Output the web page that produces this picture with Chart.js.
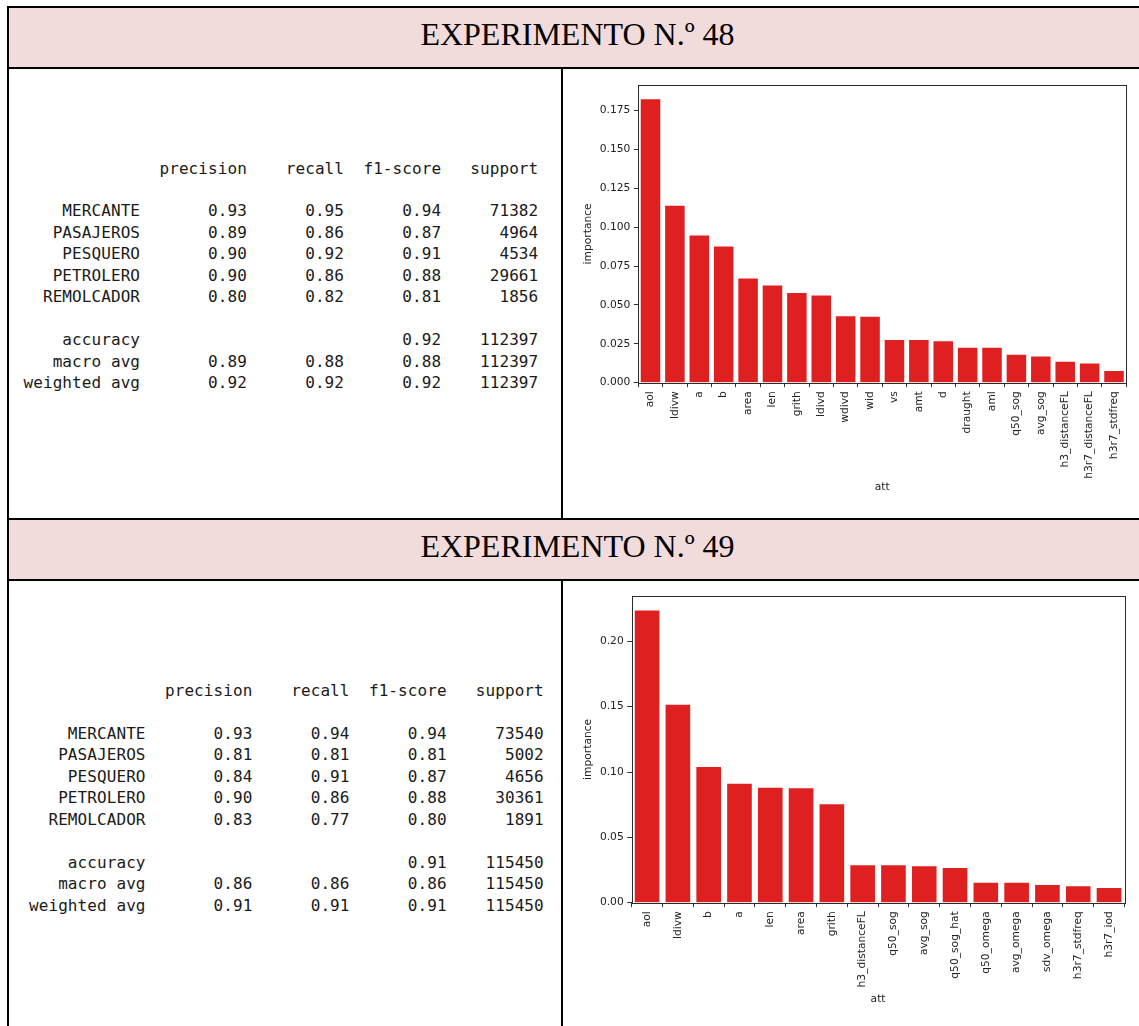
<!DOCTYPE html>
<html>
<head>
<meta charset="utf-8">
<script src="https://cdn.jsdelivr.net/npm/chart.js@4.4.1/dist/chart.umd.min.js"></script>
<style>
  html, body { margin: 0; padding: 0; background: #fff; }
  body { width: 1139px; height: 1026px; position: relative; overflow: hidden; }
  .line { position: absolute; background: #000; }
  .head { position: absolute; background: #f2dcdb; }
  .title { position: absolute; left: 0; width: 1155px; text-align: center;
           font-family: "Liberation Serif", "Times New Roman", serif; font-size: 32px;
           line-height: 32px; color: #000; white-space: nowrap; }
  pre.report { position: absolute; margin: 0; font-family: "DejaVu Sans Mono", monospace;
               font-size: 16px; letter-spacing: 0.08px; line-height: 21.45px; color: #1a1a1a; }
  canvas { position: absolute; }
</style>
</head>
<body>
  <!-- table frame -->
  <div class="head" style="left:9px;top:8px;width:1130px;height:59px"></div>
  <div class="head" style="left:9px;top:520px;width:1130px;height:59px"></div>
  <div class="line" style="left:7px;top:6px;width:1132px;height:2px"></div>
  <div class="line" style="left:7px;top:6px;width:2px;height:1020px"></div>
  <div class="line" style="left:7px;top:67px;width:1132px;height:2px"></div>
  <div class="line" style="left:561px;top:69px;width:2px;height:449px"></div>
  <div class="line" style="left:7px;top:518px;width:1132px;height:2px"></div>
  <div class="line" style="left:7px;top:579px;width:1132px;height:2px"></div>
  <div class="line" style="left:561px;top:581px;width:2px;height:445px"></div>

  <div class="title" style="top:17.5px">EXPERIMENTO N.º 48</div>
  <div class="title" style="top:529.5px">EXPERIMENTO N.º 49</div>

  <pre class="report" id="rep48" style="left:23.5px;top:157.5px"></pre>
  <pre class="report" id="rep49" style="left:29px;top:680px"></pre>

  <canvas id="c48" width="576" height="448" style="left:563px;top:70px"></canvas>
  <canvas id="c49" width="576" height="445" style="left:563px;top:581px"></canvas>

<script>
// ---- classification reports ----
const classNames = ["MERCANTE", "PASAJEROS", "PESQUERO", "PETROLERO", "REMOLCADOR"];

const precision48 = [0.93, 0.89, 0.90, 0.90, 0.80];
const recall48    = [0.95, 0.86, 0.92, 0.86, 0.82];
const f1score48   = [0.94, 0.87, 0.91, 0.88, 0.81];
const support48   = [71382, 4964, 4534, 29661, 1856];
const accuracy48  = [0.92, 112397];
const macroAvg48  = [0.89, 0.88, 0.88, 112397];
const weightedAvg48 = [0.92, 0.92, 0.92, 112397];

const precision49 = [0.93, 0.81, 0.84, 0.90, 0.83];
const recall49    = [0.94, 0.81, 0.91, 0.86, 0.77];
const f1score49   = [0.94, 0.81, 0.87, 0.88, 0.80];
const support49   = [73540, 5002, 4656, 30361, 1891];
const accuracy49  = [0.91, 115450];
const macroAvg49  = [0.86, 0.86, 0.86, 115450];
const weightedAvg49 = [0.91, 0.91, 0.91, 115450];

// ---- feature importances ----
const features48 = ["aol", "ldivw", "a", "b", "area", "len", "grith", "ldivd", "wdivd", "wid",
  "vs", "amt", "d", "draught", "aml", "q50_sog", "avg_sog", "h3_distanceFL", "h3r7_distanceFL", "h3r7_stdfreq"];
const importance48 = [0.1823, 0.1138, 0.0946, 0.0875, 0.0670, 0.0625, 0.0576, 0.0561, 0.0428, 0.0424,
  0.0274, 0.0274, 0.0267, 0.0225, 0.0225, 0.0180, 0.0169, 0.0135, 0.0124, 0.0075];

const features49 = ["aol", "ldivw", "b", "a", "len", "area", "grith", "h3_distanceFL", "q50_sog", "avg_sog",
  "q50_sog_hat", "q50_omega", "avg_omega", "sdv_omega", "h3r7_stdfreq", "h3r7_iod"];
const importance49 = [0.2235, 0.1514, 0.1038, 0.0910, 0.0880, 0.0875, 0.0754, 0.0286, 0.0286, 0.0279,
  0.0266, 0.0153, 0.0153, 0.0136, 0.0125, 0.0113];

const yTickStep48 = 0.025, yDecimals48 = 3;
const yTickStep49 = 0.05,  yDecimals49 = 2;

// text report in the usual column layout
function buildReport(p, r, f, s, acc, macro, weighted) {
  const w = 12, col = v => String(v).padStart(9);
  const num = v => col(v.toFixed(2));
  const out = [];
  out.push("".padStart(w) + " " + [" precision", "    recall", "  f1-score", "   support"].join(""));
  out.push("");
  classNames.forEach((n, i) => {
    out.push(n.padStart(w) + " " + " " + num(p[i]) + " " + num(r[i]) + " " + num(f[i]) + " " + col(s[i]));
  });
  out.push("");
  out.push("accuracy".padStart(w) + " " + " " + col("") + " " + col("") + " " + num(acc[0]) + " " + col(acc[1]));
  out.push("macro avg".padStart(w) + " " + " " + num(macro[0]) + " " + num(macro[1]) + " " + num(macro[2]) + " " + col(macro[3]));
  out.push("weighted avg".padStart(w) + " " + " " + num(weighted[0]) + " " + num(weighted[1]) + " " + num(weighted[2]) + " " + col(weighted[3]));
  return out.join("\n");
}
document.getElementById("rep48").textContent =
  buildReport(precision48, recall48, f1score48, support48, accuracy48, macroAvg48, weightedAvg48);
document.getElementById("rep49").textContent =
  buildReport(precision49, recall49, f1score49, support49, accuracy49, macroAvg49, weightedAvg49);

// ---- bar charts ----
const frame = {
  id: "frame",
  afterDatasetsDraw(chart) {
    const a = chart.chartArea, ctx = chart.ctx;
    ctx.save();
    ctx.strokeStyle = "#2b2b2b";
    ctx.lineWidth = 1;
    ctx.strokeRect(Math.round(a.left) + 0.5, Math.round(a.top) + 0.5,
                   Math.round(a.right - a.left), Math.round(a.bottom - a.top));
    ctx.restore();
  }
};

const FONT = { family: "'DejaVu Sans', sans-serif", size: 10.7 };

function makeChart(id, labels, values, step, decimals, geo) {
  const yMax = Math.max(...values) * 1.05;
  return new Chart(document.getElementById(id), {
    type: "bar",
    data: {
      labels: labels,
      datasets: [{
        data: values,
        backgroundColor: "#df2020",
        borderWidth: 0,
        barPercentage: 1.0,
        categoryPercentage: 0.8
      }]
    },
    options: {
      responsive: false,
      animation: false,
      devicePixelRatio: 1,
      layout: { padding: { left: 0, right: geo.padRight, top: geo.padTop, bottom: 0 } },
      plugins: { legend: { display: false }, tooltip: { enabled: false } },
      scales: {
        x: {
          type: "category",
          offset: true,
          border: { display: false },
          grid: { display: true, drawOnChartArea: false, drawTicks: true, tickLength: 4.5, color: "#333" },
          ticks: { autoSkip: false, minRotation: 90, maxRotation: 90, padding: 4, color: "#222", font: FONT },
          title: { display: true, text: "att", color: "#222", font: FONT, padding: { top: 0, bottom: geo.attPad } },
          afterFit(s) { s.height = geo.xHeight; }
        },
        y: {
          min: 0,
          max: yMax,
          border: { display: false },
          grid: { display: true, drawOnChartArea: false, drawTicks: true, tickLength: 4.5, color: "#333" },
          ticks: {
            stepSize: step,
            includeBounds: false,
            padding: 3.5,
            color: "#222",
            font: FONT,
            callback: v => Number(v).toFixed(decimals)
          },
          title: { display: true, text: "importance", color: "#222", font: FONT, padding: { top: geo.impPad, bottom: 0 } },
          afterFit(s) { s.width = geo.yWidth; }
        }
      }
    },
    plugins: [frame]
  });
}

makeChart("c48", features48, importance48, yTickStep48, yDecimals48,
  { padRight: 12.8, padTop: 15, xHeight: 135.3, yWidth: 75.3, attPad: 24.5, impPad: 19.2 });
makeChart("c49", features49, importance49, yTickStep49, yDecimals49,
  { padRight: 14.6, padTop: 15, xHeight: 123.3, yWidth: 68.7, attPad: 20.2, impPad: 19.2 });
</script>
</body>
</html>
